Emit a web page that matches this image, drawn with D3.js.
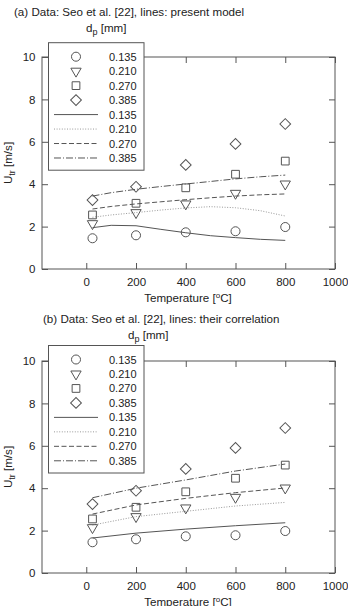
<!DOCTYPE html>
<html><head><meta charset="utf-8">
<script src="https://cdn.jsdelivr.net/npm/d3@7"></script>
<style>
body{margin:0;background:#fff;}
svg{display:block;font-family:"Liberation Sans",Arial,sans-serif;}
</style></head>
<body>
<script>
// ---- data ----
const expTemps = [25, 200, 400, 600, 800];
const dpLabels = ["0.135", "0.210", "0.270", "0.385"];
const exp135 = [1.45, 1.59, 1.73, 1.78, 1.98];
const exp210 = [2.14, 2.66, 3.07, 3.57, 4.01];
const exp270 = [2.55, 3.10, 3.83, 4.47, 5.09];
const exp385 = [3.25, 3.88, 4.91, 5.90, 6.84];

const modelTemps = [25, 100, 200, 300, 400, 500, 600, 700, 800];
const model135 = [1.95, 2.06, 2.04, 1.87, 1.71, 1.57, 1.48, 1.40, 1.35];
const model210 = [2.44, 2.55, 2.66, 2.78, 2.88, 2.94, 2.89, 2.75, 2.50];
const model270 = [2.83, 2.95, 3.07, 3.17, 3.27, 3.36, 3.44, 3.50, 3.54];
const model385 = [3.44, 3.60, 3.76, 3.89, 4.01, 4.13, 4.25, 4.35, 4.43];

const corrTemps = [25, 200, 400, 600, 800];
const corr135 = [1.65, 1.88, 2.07, 2.23, 2.37];
const corr210 = [2.26, 2.66, 2.91, 3.16, 3.33];
const corr270 = [2.78, 3.21, 3.52, 3.79, 4.01];
const corr385 = [3.55, 4.00, 4.39, 4.81, 5.14];

const xTicks = [0, 200, 400, 600, 800, 1000];
const yTicks = [0, 2, 4, 6, 8, 10];
const titles = ["(a) Data: Seo et al. [22], lines: present model",
                "(b) Data: Seo et al. [22], lines: their correlation"];

// ---- drawing ----
const W = 348, H = 606;
const svg = d3.select("body").append("svg").attr("width", W).attr("height", H);
const ink = "#555", txt = "#222";
const symbols = [d3.symbolCircle, d3.symbolTriangle, d3.symbolSquare, d3.symbolSquare];
const symSize = [64, 46, 60, 58];
const dashes = [null, "1,1.6", "5,2.5", "7,2,1,2"];
const lineColors = [ink, "#999", ink, ink];

function marker(g, i, x, y) {
  const s = d3.symbol().type(symbols[i]).size(symSize[i]);
  let tr = `translate(${x},${y})`;
  if (i === 1) tr += " rotate(180)";
  if (i === 3) tr += " rotate(45)";
  g.append("path").attr("d", s()).attr("transform", tr)
    .attr("fill", "none").attr("stroke", ink).attr("stroke-width", 1);
}

function panel(cfg) {
  const x = d3.scaleLinear().domain([-178, 1000]).range([42, 335]);
  const y = d3.scaleLinear().domain([0, 10]).range([cfg.bottom, cfg.bottom - 212]);
  const g = svg.append("g");
  const fs = "11.5px";

  // frame
  g.append("rect").attr("x", x.range()[0]).attr("y", y(10))
    .attr("width", x.range()[1] - x.range()[0]).attr("height", y(0) - y(10))
    .attr("fill", "none").attr("stroke", ink).attr("stroke-width", 1);

  // axes
  const ax = g.append("g").attr("transform", `translate(0,${y(0)})`)
    .call(d3.axisBottom(x).tickValues(xTicks).tickFormat(d3.format("d"))
      .tickSizeInner(-6).tickSizeOuter(0).tickPadding(8.5));
  const axTop = g.append("g").attr("transform", `translate(0,${y(10)})`)
    .call(d3.axisTop(x).tickValues(xTicks).tickSizeInner(-6).tickSizeOuter(0).tickFormat(""));
  const ay = g.append("g").attr("transform", `translate(${x.range()[0]},0)`)
    .call(d3.axisLeft(y).tickValues(yTicks).tickSizeInner(-6).tickSizeOuter(0).tickPadding(6.5));
  const ayR = g.append("g").attr("transform", `translate(${x.range()[1]},0)`)
    .call(d3.axisRight(y).tickValues(yTicks).tickSizeInner(-6).tickSizeOuter(0).tickFormat(""));
  [ax, axTop, ay, ayR].forEach(a => {
    a.select(".domain").remove();
    a.selectAll("line").attr("stroke", ink);
    a.selectAll("text").attr("fill", txt).style("font-size", fs)
      .style("font-family", "'Liberation Sans',Arial,sans-serif");
  });

  // lines
  const line = d3.line().x(d => x(d[0])).y(d => y(d[1]));
  cfg.lines.forEach((arr, i) => {
    g.append("path").datum(cfg.lineTemps.map((t, k) => [t, arr[k]]))
      .attr("d", line).attr("fill", "none").attr("stroke", lineColors[i])
      .attr("stroke-width", 1).attr("stroke-dasharray", dashes[i]);
  });

  // markers
  [exp135, exp210, exp270, exp385].forEach((arr, i) => {
    arr.forEach((v, k) => marker(g, i, x(expTemps[k]), y(v)));
  });

  // legend
  const lg = g.append("g");
  const lt = cfg.legendTop;
  lg.append("rect").attr("x", 48.5).attr("y", lt).attr("width", 95.5).attr("height", 127.5)
    .attr("fill", "#fff").attr("stroke", ink).attr("stroke-width", 1);
  for (let r = 0; r < 8; r++) {
    const cy = lt + 14 + r * 14.47;
    if (r < 4) marker(lg, r, 76, cy);
    else {
      const i = r - 4;
      lg.append("line").attr("x1", 54).attr("x2", 98).attr("y1", cy).attr("y2", cy)
        .attr("stroke", lineColors[i]).attr("stroke-width", 1).attr("stroke-dasharray", dashes[i]);
    }
    lg.append("text").attr("x", 109).attr("y", cy + 4).attr("fill", txt)
      .style("font-size", "11px").text(dpLabels[r % 4]);
  }

  // title
  g.append("text").attr("x", cfg.titleX).attr("y", cfg.titleY).attr("fill", txt)
    .style("font-size", "11.6px").text(cfg.title);
  const dp = g.append("text").attr("x", cfg.dpX).attr("y", cfg.titleY + 16).attr("fill", txt)
    .style("font-size", "11.6px");
  dp.append("tspan").text("d");
  dp.append("tspan").attr("dy", 3).style("font-size", "9px").text("p");
  dp.append("tspan").attr("dy", -3).text(" [mm]");

  // x label
  const xl = g.append("text").attr("x", 188).attr("y", cfg.bottom + 32.7).attr("text-anchor", "middle")
    .attr("fill", txt).style("font-size", "11.6px");
  xl.append("tspan").text("Temperature [");
  xl.append("tspan").attr("dy", -4).style("font-size", "8px").text("o");
  xl.append("tspan").attr("dy", 4).text("C]");

  // y label
  const yl = g.append("text").attr("transform", `translate(12,${cfg.bottom - 106}) rotate(-90)`)
    .attr("text-anchor", "middle").attr("fill", txt).style("font-size", "11.6px");
  yl.append("tspan").text("U");
  yl.append("tspan").attr("dy", 3).style("font-size", "9px").text("tr");
  yl.append("tspan").attr("dy", -3).text(" [m/s]");
}

panel({bottom: 269, legendTop: 42.7, title: titles[0], titleX: 14, titleY: 15.7, dpX: 86,
       lines: [model135, model210, model270, model385], lineTemps: modelTemps});
panel({bottom: 573, legendTop: 345.5, title: titles[1], titleX: 43, titleY: 323.3, dpX: 128,
       lines: [corr135, corr210, corr270, corr385], lineTemps: corrTemps});
</script>
</body></html>
